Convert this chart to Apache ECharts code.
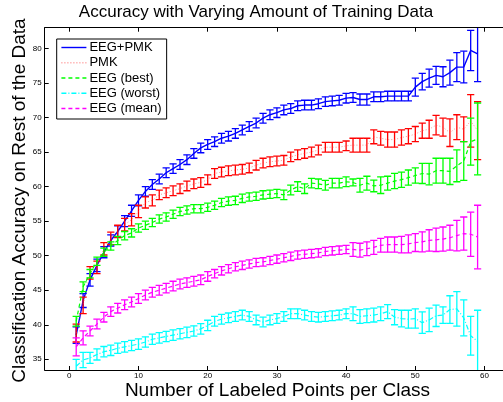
<!DOCTYPE html>
<html><head><meta charset="utf-8">
<script src="https://cdn.jsdelivr.net/npm/echarts@6/dist/echarts.min.js"></script>
<style>html,body{margin:0;padding:0;background:#fff}#c{width:503px;height:402px}</style>
</head><body><div id="c"></div>
<script>
const labeledPoints = [1,2,3,4,5,6,7,8,9,10,11,12,13,14,15,16,17,18,19,20,21,22,23,24,25,26,27,28,29,30,31,32,33,34,35,36,37,38,39,40,41,42,43,44,45,46,47,48,49,50,51,52,53,54,55,56,57,58,59];

const eegPmkMean = [38.5,43.5,46.5,48.6,50.5,52.2,53.5,55.0,56.5,58.0,59.3,60.3,61.1,62.0,62.6,63.2,63.9,64.8,65.6,66.1,66.5,67.0,67.3,67.7,68.2,68.7,69.2,69.9,70.4,70.7,71.1,71.3,71.7,71.8,71.8,72.0,72.3,72.4,72.5,72.8,72.9,72.6,72.6,73.0,73.0,73.1,73.1,73.1,73.1,74.4,75.2,75.7,76.1,75.9,76.5,77.3,77.3,79.7,79.2];
const eegPmkErr = [1.2,1.0,0.9,0.9,0.8,0.8,0.8,0.8,0.8,0.8,0.7,0.7,0.7,0.7,0.7,0.7,0.7,0.7,0.7,0.7,0.7,0.7,0.7,0.7,0.7,0.7,0.7,0.7,0.7,0.7,0.7,0.7,0.7,0.7,0.7,0.7,0.7,0.7,0.7,0.7,0.7,0.8,0.8,0.7,0.7,0.7,0.7,0.7,0.7,1.3,1.2,1.3,1.3,1.45,1.8,2.1,2.3,2.9,4.0];

const pmkMean = [38.8,42.8,47.5,48.3,51.0,52.5,53.5,54.5,55.2,56.4,57.7,58.0,58.8,59.1,59.4,59.7,60.1,60.4,60.6,61.0,61.9,62.1,62.3,62.4,62.5,62.7,63.1,63.4,63.6,63.7,63.8,64.3,64.6,64.8,65.0,65.3,65.7,65.7,65.7,65.9,66.0,66.0,66.0,67.2,67.0,66.8,66.8,67.1,67.3,67.6,68.1,68.3,68.9,68.6,67.8,68.6,68.3,69.5,68.1];
const pmkErr = [1.3,1.2,0.9,0.9,0.9,0.9,0.9,0.9,0.9,0.9,0.8,0.8,0.7,0.7,0.7,0.7,0.7,0.7,0.7,0.7,0.7,0.7,0.7,0.7,0.7,0.7,0.7,0.7,0.7,0.7,0.7,0.7,0.7,0.7,0.7,0.7,0.7,0.7,0.7,0.7,1.0,1.0,1.0,1.0,1.0,1.1,1.1,1.1,1.1,1.1,1.1,1.3,1.4,1.3,2.0,1.8,1.8,3.8,4.2];

const eegBestMean = [40.5,45.5,47.4,49.2,50.5,51.4,52.2,52.9,53.3,54.0,54.4,54.8,55.3,55.6,56.0,56.4,56.6,56.8,56.8,57.0,57.3,57.7,57.9,58.0,58.3,58.5,58.6,58.8,58.9,59.0,58.8,59.5,60.0,59.7,60.5,60.4,60.2,60.5,60.5,60.7,60.6,60.2,60.5,60.1,60.2,60.5,60.8,61.0,61.3,61.6,61.9,61.8,62.3,62.3,62.2,63.0,63.7,66.5,66.9];
const eegBestErr = [0.7,0.7,0.6,0.6,0.6,0.6,0.6,0.6,0.6,0.6,0.6,0.6,0.6,0.6,0.6,0.6,0.6,0.6,0.6,0.6,0.6,0.6,0.6,0.6,0.6,0.6,0.6,0.6,0.6,0.6,0.7,0.7,0.7,0.7,0.7,0.7,0.7,0.7,0.7,0.7,0.5,1.0,1.0,0.85,1.2,1.0,1.1,1.1,1.1,1.1,1.45,1.55,1.8,1.8,1.9,2.3,2.8,3.4,5.2];

const eegWorstMean = [34.0,34.9,35.2,35.7,36.1,36.3,36.6,36.8,37.0,37.2,37.5,37.9,38.1,38.3,38.5,38.7,38.9,39.1,39.4,39.9,40.5,40.8,41.0,41.2,41.4,41.2,40.7,40.4,40.7,40.9,41.2,41.6,41.6,41.4,41.2,41.1,41.2,41.3,41.4,41.6,41.6,41.2,41.3,41.4,41.6,41.9,41.1,40.9,40.8,40.9,40.3,40.7,41.3,41.4,42.2,42.3,41.0,38.4,37.6];
const eegWorstErr = [1.0,1.1,0.8,0.8,0.75,0.75,0.75,0.75,0.75,0.75,0.75,0.75,0.75,0.75,0.75,0.75,0.75,0.75,0.75,0.75,0.7,0.7,0.7,0.7,0.7,0.7,0.7,0.7,0.7,0.7,0.7,0.7,0.7,0.7,0.7,0.7,0.7,0.7,0.7,0.7,1.0,1.0,1.0,1.0,1.0,1.0,1.1,1.2,1.3,1.4,1.55,1.7,1.55,1.2,2.0,2.5,2.6,2.8,4.5];

const eegMeanMean = [36.8,38.1,39.1,40.1,41.1,41.9,42.4,42.9,43.3,43.8,44.3,44.7,45.0,45.3,45.6,45.9,46.1,46.3,46.5,47.0,47.4,47.8,48.1,48.4,48.6,48.8,49.0,49.1,49.3,49.5,49.7,49.9,50.1,50.2,50.3,50.4,50.6,50.7,50.8,50.9,50.9,50.8,51.0,51.2,51.5,51.6,51.6,51.6,51.7,51.9,52.0,52.2,52.3,52.4,52.6,52.9,53.2,53.1,52.7];
const eegMeanErr = [1.3,1.0,0.7,0.7,0.7,0.7,0.7,0.7,0.7,0.7,0.7,0.7,0.7,0.7,0.7,0.7,0.7,0.7,0.7,0.7,0.6,0.6,0.6,0.6,0.6,0.6,0.6,0.6,0.6,0.6,0.6,0.6,0.6,0.6,0.6,0.6,0.6,0.6,0.6,0.6,1.0,1.0,1.0,1.0,1.0,1.1,1.1,1.2,1.3,1.3,1.45,1.55,1.7,1.75,1.8,2.2,2.4,3.2,4.6];

const xTicks = [0,10,20,30,40,50,60];
const yTicks = [35,40,45,50,55,60,65,70,75,80];
const seriesNames = ['EEG+PMK','PMK','EEG (best)','EEG (worst)','EEG (mean)'];
const chartTitle = 'Accuracy with Varying Amount of Training Data';
const xTitle = 'Number of Labeled Points per Class';
const yTitle = 'Classification Accuracy on Rest of the Data';

const X_MIN = -3.55, X_MAX = 62.67, Y_MIN = 33.45, Y_MAX = 83.0;

function errRender(color){
  return function(params, api){
    const x = api.value(0), m = api.value(1), e = api.value(2);
    let hi = m + e, lo = m - e;
    const hiClip = hi > Y_MAX, loClip = lo < Y_MIN;
    hi = Math.min(hi, Y_MAX); lo = Math.max(lo, Y_MIN);
    const t = api.coord([x, hi]), b = api.coord([x, lo]);
    const w = 3.6;
    const style = {stroke: color, lineWidth: 1.3};
    const ch = [{type:'line', shape:{x1:t[0],y1:t[1],x2:b[0],y2:b[1]}, style}];
    if (!hiClip) ch.push({type:'line', shape:{x1:t[0]-w,y1:t[1],x2:t[0]+w,y2:t[1]}, style});
    if (!loClip) ch.push({type:'line', shape:{x1:b[0]-w,y1:b[1],x2:b[0]+w,y2:b[1]}, style});
    return {type:'group', children: ch};
  };
}

const defs = [
  {name: seriesNames[0], mean: eegPmkMean, err: eegPmkErr, color:'#0000ff', line:{color:'#0000ff', width:1.4, type:'solid'}},
  {name: seriesNames[1], mean: pmkMean, err: pmkErr, color:'#ff0000', line:{color:'rgba(255,60,60,0.55)', width:1, type:[1,2]}},
  {name: seriesNames[2], mean: eegBestMean, err: eegBestErr, color:'#00ff00', line:{color:'#00ff00', width:1.2, type:[4,3]}},
  {name: seriesNames[3], mean: eegWorstMean, err: eegWorstErr, color:'#00ffff', line:{color:'#00ffff', width:1.2, type:[5,2,1,2]}},
  {name: seriesNames[4], mean: eegMeanMean, err: eegMeanErr, color:'#ff00ff', line:{color:'#ff00ff', width:1.2, type:[4,3]}}
];

const series = [];
defs.forEach((d, si) => {
  series.push({
    type:'line', name:d.name, symbol:'none', clip:true, z: 2 + si*2,
    data: labeledPoints.map((x,i)=>[x, d.mean[i]]),
    lineStyle: d.line, itemStyle:{color:d.line.color}, animation:false
  });
  series.push({
    type:'custom', name:d.name + ' err', clip:true, z: 2 + si*2,
    renderItem: errRender(d.color),
    data: labeledPoints.map((x,i)=>[x, d.mean[i], d.err[i]]),
    encode:{x:0, y:1}, animation:false, silent:true
  });
});

const font = 'Liberation Sans, Arial, Helvetica, sans-serif';
const chart = echarts.init(document.getElementById('c'), null, {renderer:'canvas'});
chart.setOption({
  animation:false,
  backgroundColor:'#ffffff',
  grid:{left:44.7, right:0, top:27.7, bottom:32, containLabel:false, outerBoundsMode:'none'},
  graphic:[
    {type:'text', x:256, y:12, style:{text:chartTitle, font:'17px ' + font, fill:'#000', textAlign:'center', textVerticalAlign:'middle'}},
    {type:'text', x:277.5, y:390.5, style:{text:xTitle, font:'19px ' + font, fill:'#000', textAlign:'center', textVerticalAlign:'middle'}},
    {type:'text', x:19.5, y:200.5, rotation:Math.PI/2, style:{text:yTitle, font:'19px ' + font, fill:'#000', textAlign:'center', textVerticalAlign:'middle'}}
  ],
  legend:{
    data: seriesNames, orient:'vertical', left:56.7, top:39,
    itemWidth:25, itemHeight:14, itemGap:2.25,
    padding:[2,5,4,4],
    backgroundColor:'#ffffff', borderColor:'#000', borderWidth:1,
    itemStyle:{opacity:0},
    lineStyle:{width:1.4},
    textStyle:{fontSize:13, color:'#000', fontFamily:font, padding:[0,0,0,-2]},
    selectedMode:false
  },
  xAxis:[
    {type:'value', min:X_MIN, max:X_MAX, position:'bottom',
     axisLine:{onZero:false, lineStyle:{color:'#000', width:1}},
     axisTick:{inside:true, length:4, customValues:xTicks, lineStyle:{color:'#000'}},
     axisLabel:{customValues:xTicks, fontSize:8, color:'#000', margin:2, fontFamily:font},
     splitLine:{show:false}},
    {type:'value', min:X_MIN, max:X_MAX, position:'top',
     axisLine:{onZero:false, lineStyle:{color:'#000', width:1}},
     axisTick:{inside:true, length:4, customValues:xTicks, lineStyle:{color:'#000'}},
     axisLabel:{show:false}, splitLine:{show:false}}
  ],
  yAxis:[
    {type:'value', min:Y_MIN, max:Y_MAX, position:'left',
     axisLine:{onZero:false, lineStyle:{color:'#000', width:1}},
     axisTick:{inside:true, length:4, customValues:yTicks, lineStyle:{color:'#000'}},
     axisLabel:{customValues:yTicks, fontSize:8, color:'#000', margin:3, fontFamily:font},
     splitLine:{show:false}}
  ],
  series: series
});
</script></body></html>
